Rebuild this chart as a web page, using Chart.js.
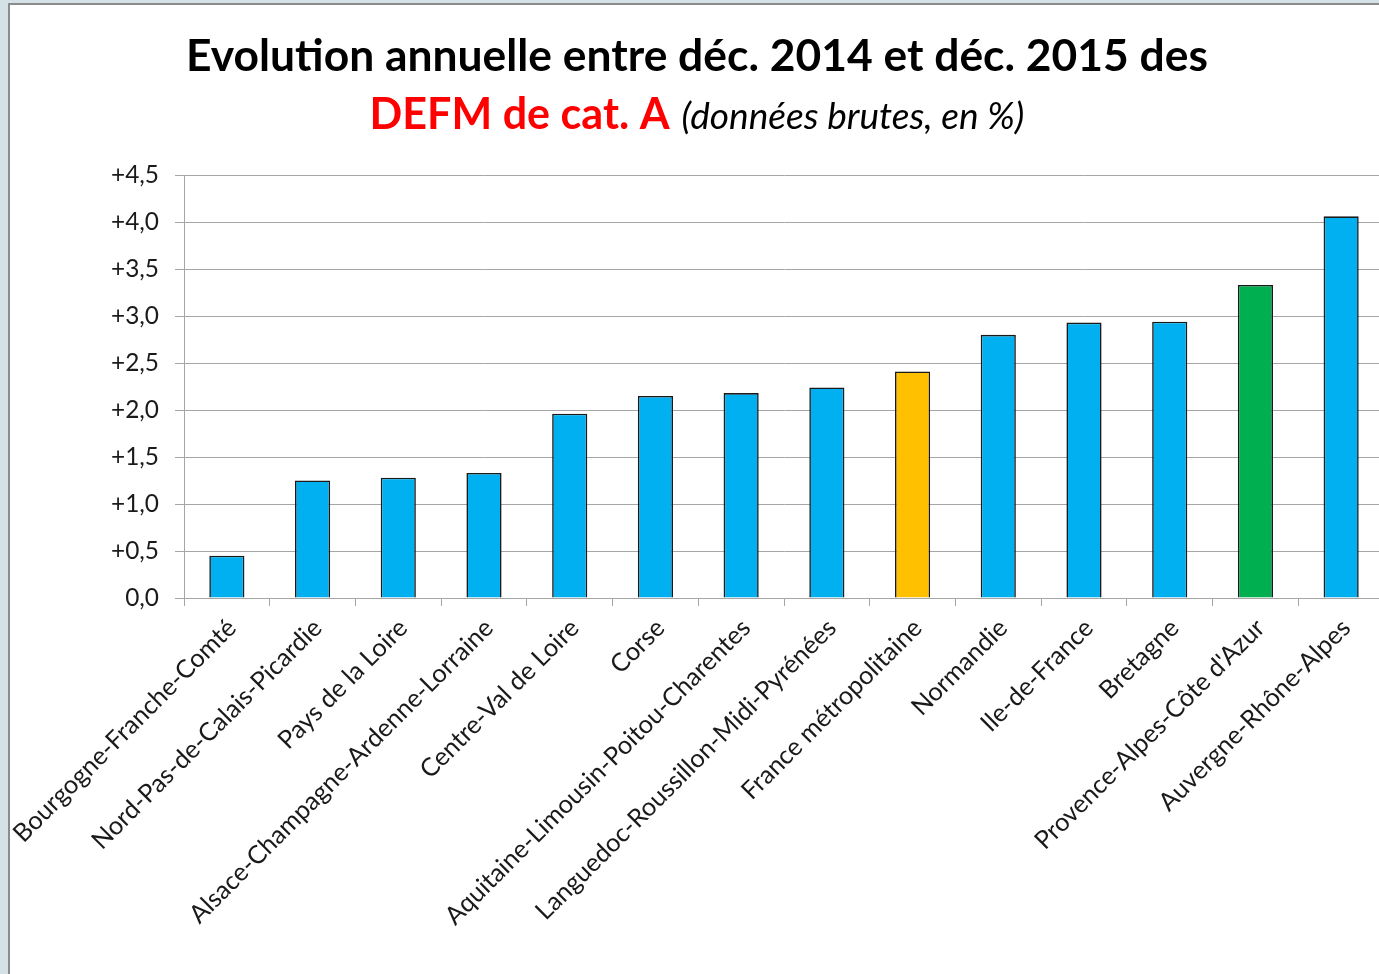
<!DOCTYPE html>
<html>
<head>
<meta charset="utf-8">
<script src="https://cdn.jsdelivr.net/npm/chart.js@4.4.1/dist/chart.umd.min.js"></script>
<style>
  html, body { margin: 0; padding: 0; overflow: hidden; width: 1379px; height: 974px; background: #d4e1e7; }
  #panel { position: absolute; left: 8px; top: 3px; width: 1400px; height: 980px; background: #fff;
           border-left: 2px solid #8c8c8c; border-top: 2px solid #8c8c8c; }
  #c { position: absolute; left: 0; top: 0; }
</style>
</head>
<body>
<div id="panel"><canvas id="c" width="1380" height="969"></canvas></div>
<script>
// ---- data ----
const categories = [
  "Bourgogne-Franche-Comté",
  "Nord-Pas-de-Calais-Picardie",
  "Pays de la Loire",
  "Alsace-Champagne-Ardenne-Lorraine",
  "Centre-Val de Loire",
  "Corse",
  "Aquitaine-Limousin-Poitou-Charentes",
  "Languedoc-Roussillon-Midi-Pyrénées",
  "France métropolitaine",
  "Normandie",
  "Ile-de-France",
  "Bretagne",
  "Provence-Alpes-Côte d'Azur",
  "Auvergne-Rhône-Alpes"
];
const values = [0.45, 1.25, 1.28, 1.33, 1.96, 2.15, 2.18, 2.24, 2.41, 2.80, 2.93, 2.94, 3.33, 4.06];
const barColors = ["#00b0f0","#00b0f0","#00b0f0","#00b0f0","#00b0f0","#00b0f0","#00b0f0","#00b0f0",
                   "#ffc000","#00b0f0","#00b0f0","#00b0f0","#00b050","#00b0f0"];
const yTickLabels = ["0,0","+0,5","+1,0","+1,5","+2,0","+2,5","+3,0","+3,5","+4,0","+4,5"];
const titleLine1 = "Evolution annuelle entre déc. 2014 et déc. 2015 des";
const titleLine2Red = "DEFM de cat. A";
const titleLine2Italic = "(données brutes, en %)";

// ---- helpers ----
const FONT = "Lato, 'Open Sans', sans-serif";
const mctx = document.createElement('canvas').getContext('2d');
function fitSize(text, style, target) {
  mctx.font = style + " 100px " + FONT;
  return 100 * target / mctx.measureText(text).width;
}
const tickSize = fitSize("+4,5", "", 48);
const catSize = fitSize("Bourgogne-Franche-Comté", "", 303);
const t1Size = fitSize(titleLine1, "bold", 1022);
const t2RedSize = fitSize(titleLine2Red, "bold", 300);
const t2ItSize = fitSize(titleLine2Italic, "italic", 343);

const titlePlugin = {
  id: 'customTitle',
  afterDraw(chart) {
    const ctx = chart.ctx;
    ctx.save();
    ctx.textBaseline = 'alphabetic';
    ctx.fillStyle = '#000';
    ctx.textAlign = 'center';
    ctx.font = "bold " + t1Size + "px " + FONT;
    ctx.fillText(titleLine1, 687, 66);
    ctx.textAlign = 'left';
    ctx.font = "bold " + t2RedSize + "px " + FONT;
    const wRed = ctx.measureText(titleLine2Red).width;
    ctx.font = "italic " + t2ItSize + "px " + FONT;
    const wIt = ctx.measureText(titleLine2Italic).width;
    const gap = 12;
    const startX = 687 - (wRed + gap + wIt) / 2;
    ctx.font = "bold " + t2RedSize + "px " + FONT;
    ctx.fillStyle = '#ff0000';
    ctx.fillText(titleLine2Red, startX, 124);
    ctx.font = "italic " + t2ItSize + "px " + FONT;
    ctx.fillStyle = '#000';
    ctx.fillText(titleLine2Italic, startX + wRed + gap, 124);
    ctx.restore();
  }
};

const gridColor = '#a6a6a6';
new Chart(document.getElementById('c'), {
  type: 'bar',
  data: {
    labels: categories,
    datasets: [{
      data: values,
      backgroundColor: barColors,
      borderColor: '#1a1a1a',
      borderWidth: 1.6,
      barPercentage: 0.41,
      categoryPercentage: 1.0
    }]
  },
  options: {
    responsive: false,
    devicePixelRatio: 1,
    animation: false,
    layout: { padding: { top: 170, right: 6, left: 0, bottom: 0 } },
    plugins: { legend: { display: false }, title: { display: false }, tooltip: { enabled: false } },
    scales: {
      x: {
        offset: true,
        grid: { display: true, drawOnChartArea: false, drawTicks: true, tickLength: 8, color: gridColor, offset: true },
        border: { display: true, color: gridColor, width: 1 },
        ticks: { maxRotation: 45, minRotation: 45, autoSkip: false, color: '#1a1a1a',
                 font: { family: FONT, size: catSize }, padding: 7, labelOffset: 5 },
        afterFit(scale) { scale.height = 376; scale.paddingLeft = 0; scale.paddingRight = 0; }
      },
      y: {
        min: 0, max: 4.5,
        ticks: { stepSize: 0.5, color: '#1a1a1a', padding: 16,
                 font: { family: FONT, size: tickSize },
                 callback: (v, i) => yTickLabels[i] },
        grid: { color: gridColor, tickLength: 9, drawTicks: true },
        border: { display: true, color: gridColor, width: 1 },
        afterFit(scale) { scale.width = 174; scale.paddingTop = 0; scale.paddingBottom = 0; }
      }
    }
  },
  plugins: [titlePlugin]
});
</script>
</body>
</html>
